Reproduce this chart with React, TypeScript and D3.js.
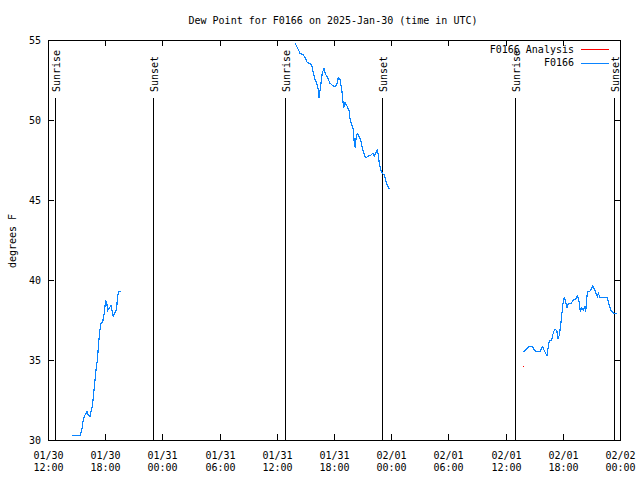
import React, { useEffect, useRef } from "react";
import * as d3 from "d3";

// hours since 2025-01-30 12:00 UTC
const xTickLabels = [
  ["01/30", "12:00"], ["01/30", "18:00"], ["01/31", "00:00"], ["01/31", "06:00"],
  ["01/31", "12:00"], ["01/31", "18:00"], ["02/01", "00:00"], ["02/01", "06:00"],
  ["02/01", "12:00"], ["02/01", "18:00"], ["02/02", "00:00"],
];
const yTicks = [30, 35, 40, 45, 50, 55];

const sunEventHours = [0.61, 8.79, 19.91, 28.05, 39.19, 47.47];
const sunEventLabels = ["Sunrise", "Sunset", "Sunrise", "Sunset", "Sunrise", "Sunset"];

const seg1Hours = [2.04, 2.71, 2.83, 2.96, 3.10, 3.27, 3.38, 3.52, 3.58, 3.72, 3.86, 4.00, 4.14, 4.25, 4.34, 4.45, 4.59, 4.72, 4.84, 4.93, 5.01, 5.18, 5.29, 5.40, 5.48, 5.56, 5.71, 5.79, 5.85, 5.96, 6.10];
const seg1Values = [30.3, 30.3, 30.6, 31.25, 31.56, 31.77, 31.56, 31.46, 31.7, 32.1, 33.1, 34.2, 35.0, 36.05, 36.8, 37.3, 37.4, 37.9, 38.75, 38.55, 38.1, 38.3, 38.4, 38.0, 37.7, 37.9, 38.1, 38.5, 39.06, 39.27, 39.27];

const seg2Hours = [20.73, 20.87, 21.00, 21.15, 21.37, 21.48, 21.65, 21.76, 21.99, 22.13, 22.26, 22.40, 22.55, 22.68, 22.74, 22.82, 22.91, 23.02, 23.16, 23.30, 23.47, 23.66, 23.86, 24.08, 24.23, 24.36, 24.50, 24.65, 24.73, 24.81, 24.92, 25.07, 25.28, 25.34, 25.48, 25.62, 25.70, 25.79, 25.85, 25.95, 26.12, 26.24, 26.35, 26.46, 26.60, 26.74, 26.88, 27.08, 27.25, 27.38, 27.52, 27.63, 27.72, 27.80, 27.92, 28.05, 28.22, 28.34, 28.45, 28.56, 28.67];
const seg2Values = [54.79, 54.6, 54.4, 54.17, 54.1, 54.0, 53.8, 53.58, 53.54, 53.4, 52.96, 52.54, 52.3, 51.9, 51.4, 51.8, 52.3, 52.96, 53.2, 52.86, 52.64, 52.3, 52.17, 52.06, 52.2, 52.64, 52.54, 51.9, 51.3, 50.77, 51.08, 50.9, 50.56, 50.1, 49.7, 49.4, 48.54, 48.23, 48.85, 49.17, 48.96, 48.75, 48.33, 48.02, 47.7, 47.67, 47.75, 47.8, 47.92, 47.75, 47.96, 48.1, 47.8, 47.3, 46.9, 46.67, 46.56, 46.25, 45.94, 45.8, 45.67];

const seg3Hours = [39.88, 40.03, 40.17, 40.36, 40.59, 40.72, 40.87, 41.06, 41.29, 41.43, 41.51, 41.62, 41.76, 41.87, 41.98, 42.07, 42.27, 42.35, 42.49, 42.60, 42.71, 42.80, 42.91, 43.02, 43.11, 43.22, 43.32, 43.44, 43.53, 43.61, 43.74, 43.89, 44.08, 44.28, 44.45, 44.56, 44.67, 44.78, 44.92, 45.06, 45.12, 45.20, 45.29, 45.48, 45.62, 45.71, 45.84, 45.99, 46.09, 46.18, 46.32, 46.46, 46.66, 46.93, 47.08, 47.22, 47.35, 47.49, 47.58, 47.72, 47.77];
const seg3Values = [35.52, 35.58, 35.69, 35.83, 35.85, 35.75, 35.56, 35.54, 35.54, 35.73, 35.83, 35.62, 35.42, 35.25, 35.83, 36.23, 36.25, 36.56, 36.87, 36.92, 36.77, 36.35, 36.56, 37.19, 37.8, 38.54, 38.9, 38.65, 38.23, 38.44, 38.54, 38.52, 38.75, 38.81, 39.02, 38.65, 38.02, 38.23, 38.13, 38.33, 38.0, 38.85, 39.27, 39.31, 39.48, 39.64, 39.44, 39.17, 38.96, 39.17, 38.9, 38.92, 38.9, 38.9, 38.44, 38.13, 38.02, 37.92, 37.88, 37.92, 37.92];

const analysisHours = [39.88];
const analysisValues = [34.63];

const W = 640, H = 480;
const M = { left: 48, right: 20, top: 40, bottom: 40 };
const FONT = "'DejaVu Sans Mono', monospace";
const BLUE = "#0a84ff";
const RED = "#ff0000";

export default function App() {
  const ref = useRef<SVGSVGElement>(null);
  useEffect(() => {
    document.body.style.margin = "0";
    const svg = d3.select(ref.current);
    svg.selectAll("*").remove();
    const x = d3.scaleLinear().domain([0, 48]).range([M.left, W - M.right]);
    const y = d3.scaleLinear().domain([30, 55]).range([H - M.bottom, M.top]);
    const x0 = x(0), x1 = x(48), y0 = y(30), y1 = y(55);

    svg.append("rect").attr("width", W).attr("height", H).attr("fill", "#fff");

    const g = svg.append("g").attr("shape-rendering", "crispEdges");
    const tl = 6;
    const step = 48 / (xTickLabels.length - 1);
    xTickLabels.forEach((lab, i) => {
      const xx = Math.round(x(i * step)) + 0.5;
      if (i > 0 && i < xTickLabels.length - 1) {
        g.append("line").attr("x1", xx).attr("x2", xx).attr("y1", y0).attr("y2", y0 - tl).attr("stroke", "#000");
        g.append("line").attr("x1", xx).attr("x2", xx).attr("y1", y1).attr("y2", y1 + tl).attr("stroke", "#000");
      }
      const t = svg.append("text").attr("text-anchor", "middle")
        .attr("font-family", FONT).attr("font-size", 10).attr("fill", "#000");
      t.append("tspan").attr("x", xx).attr("y", 459).text(lab[0]);
      t.append("tspan").attr("x", xx).attr("y", 471).text(lab[1]);
    });
    yTicks.forEach((v) => {
      const yy = Math.round(y(v)) + 0.5;
      g.append("line").attr("x1", x0).attr("x2", x0 + tl).attr("y1", yy).attr("y2", yy).attr("stroke", "#000");
      g.append("line").attr("x1", x1).attr("x2", x1 - tl).attr("y1", yy).attr("y2", yy).attr("stroke", "#000");
      svg.append("text").attr("x", x0 - 7).attr("y", yy).attr("dy", "0.35em").attr("text-anchor", "end")
        .attr("font-family", FONT).attr("font-size", 10).text(v);
    });

    // sun events
    sunEventHours.forEach((h, i) => {
      const xx = Math.round(x(h)) + 0.5;
      g.append("line").attr("x1", xx).attr("x2", xx).attr("y1", 98).attr("y2", y0).attr("stroke", "#000");
      svg.append("text").attr("transform", `translate(${xx + 1},92) rotate(-90)`)
        .attr("text-anchor", "start").attr("dominant-baseline", "central")
        .attr("font-family", FONT).attr("font-size", 10).text(sunEventLabels[i]);
    });

    // frame
    g.append("rect").attr("x", x0 + 0.5).attr("y", y1 + 0.5).attr("width", x1 - x0).attr("height", y0 - y1)
      .attr("fill", "none").attr("stroke", "#000");

    // data
    const line = d3.line<[number, number]>().x((d) => x(d[0])).y((d) => y(d[1]));
    [[seg1Hours, seg1Values], [seg2Hours, seg2Values], [seg3Hours, seg3Values]].forEach(([hs, vs]) => {
      const pts = hs.map((h, i) => [h, vs[i]] as [number, number]);
      svg.append("path").attr("d", line(pts)).attr("fill", "none").attr("stroke", BLUE)
        .attr("stroke-width", 1.2).attr("shape-rendering", "crispEdges");
    });
    analysisHours.forEach((h, i) => {
      svg.append("rect").attr("x", Math.round(x(h))).attr("y", Math.round(y(analysisValues[i]))).attr("width", 1).attr("height", 1).attr("fill", RED);
    });

    // legend
    const legend = [["F0166 Analysis", RED], ["F0166", BLUE]];
    legend.forEach(([name, c], i) => {
      const ly = 49 + i * 13.5;
      svg.append("text").attr("x", 574).attr("y", ly).attr("dy", "0.35em").attr("text-anchor", "end")
        .attr("font-family", FONT).attr("font-size", 10).text(name);
      g.append("line").attr("x1", 581).attr("x2", 609).attr("y1", Math.round(ly) + 0.5).attr("y2", Math.round(ly) + 0.5).attr("stroke", c);
    });

    // title & y label
    svg.append("text").attr("x", 333).attr("y", 20).attr("dy", "0.35em").attr("text-anchor", "middle")
      .attr("font-family", FONT).attr("font-size", 10).text("Dew Point for F0166 on 2025-Jan-30 (time in UTC)");
    svg.append("text").attr("transform", `translate(12,241) rotate(-90)`).attr("text-anchor", "middle")
      .attr("dominant-baseline", "central").attr("font-family", FONT).attr("font-size", 10).text("degrees F");
  }, []);
  return <svg ref={ref} width={W} height={H} style={{ display: "block" }} />;
}
